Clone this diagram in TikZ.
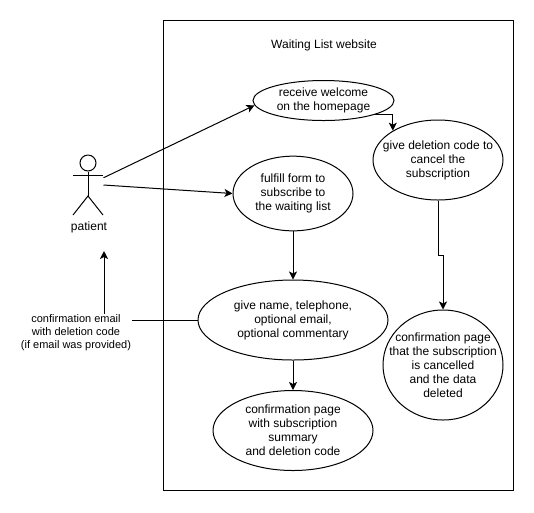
\documentclass[tikz,border=0pt]{standalone}
\usepackage{fontspec}
\setmainfont{Liberation Sans}
\usetikzlibrary{shapes.geometric,arrows.meta}
\begin{document}
\begin{tikzpicture}[x=0.75pt,y=-0.75pt,line width=0.75pt]

\tikzset{usecase/.style={draw,ellipse,inner sep=-20pt,align=center,font=\fontsize{9}{10.5}\selectfont}} %use case style
\tikzset{caption/.style={inner sep=0pt,align=center,font=\fontsize{9}{10.5}\selectfont}}
\tikzset{flow/.style={-{Stealth[length=6pt,width=6pt,inset=1.5pt]}}}

	\useasboundingbox (0,0) rectangle (534,512);

	%website frame
	\draw (163,20) rectangle (513,490);
	\node[caption] (title) at (324,45) {Waiting List website};

	%use cases
	\node[usecase,minimum width=105.75pt,minimum height=30pt] (receive) at (323.5,100.5) {receive welcome\\on the homepage};
	\node[usecase,minimum width=97.5pt,minimum height=60pt] (cancel) at (438,160) {give deletion code to\\cancel the\\subscription};
	\node[usecase,minimum width=90pt,minimum height=56pt] (fulfill) at (293,193.5) {fulfill form to\\subscribe to\\the waiting list};
	\node[usecase,minimum width=142.5pt,minimum height=60pt] (form) at (293,320) {give name, telephone,\\optional email,\\optional commentary};
	\node[usecase,minimum width=120pt,minimum height=60pt] (summary) at (293,430.5) {confirmation page\\with subscription\\summary\\and deletion code};
	\node[usecase,minimum width=90pt,minimum height=82.5pt] (deleted) at (443,365) {confirmation page\\that the subscription\\is cancelled\\and the data\\deleted};

	%actor
	\node[minimum width=22.5pt,minimum height=45pt,inner sep=0pt] (actor) at (88,185) {};
	\node[draw,circle,minimum size=12pt,inner sep=0pt] (head) at (88,163) {};
	\coordinate (hip) at (88,196);
	\draw (head.south) -- (hip);
	\draw (73,175) -- (103,175);
	\draw (73,215) -- (hip) -- (103,215);
	\node[caption] (patient) at (89,227) {patient};

	%email
	\node[caption,font=\fontsize{8.25}{9.75}\selectfont] (email) at (76,332.5) {confirmation email\\with deletion code\\(if email was provided)};
	\coordinate (emailtip) at (104,251);

	%connectors
	\draw[flow] (actor.25) -- (receive.184);
	\draw[flow] (actor.east) -- (fulfill.west);
	\draw[flow] (receive.-16) -| (cancel.147);
	\draw[flow] (fulfill.south) -- (form.north);
	\draw[flow] (form.south) -- (summary.north);
	\draw[flow] (cancel.south) --++ (0,55) -| (deleted.north);
	\draw (form.west) -- (form.west -| email.east);
	\draw[flow] (email.north -| emailtip) -- (emailtip);

\end{tikzpicture}
\end{document}
